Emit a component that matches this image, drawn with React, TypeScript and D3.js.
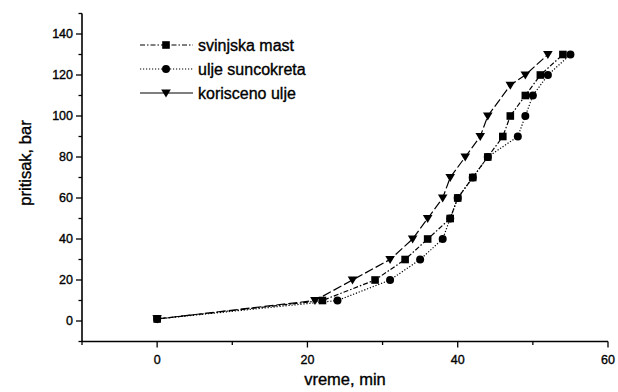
import * as d3 from 'd3';
import {useEffect, useRef} from 'react';

// pritisak (bar) levels shared by the series
const pressure = [1, 10, 20, 30, 40, 50, 60, 70, 80, 90, 100, 110, 120, 130];
const pressureKor = [1, 10, 20, 30, 40, 50, 60, 70, 80, 90, 100, 115, 120, 130];

// vreme (min) for each series
const timeMast = [0, 22, 29, 33, 36, 39, 40, 42, 44, 46, 47, 49, 51, 54];
const timeSunc = [0, 24, 31, 35, 38, 39, 40, 42, 44, 48, 49, 50, 52, 55];
const timeKor = [0, 21, 26, 31, 34, 36, 38, 39, 41, 43, 44, 47, 49, 52];

const seriesNames = ['svinjska mast', 'ulje suncokreta', 'korisceno ulje'];

const xTicks = [0, 20, 40, 60];
const yTicks = [0, 20, 40, 60, 80, 100, 120, 140];

export default function App() {
    const svgRef = useRef<SVGSVGElement>(null);

    const width = 618;
    const height = 392;

    useEffect(() => {
        const svg = d3.select(svgRef.current);
        svg.selectAll('*').remove();

        const font = '"Liberation Sans", Arial, sans-serif';

        const x = d3.scaleLinear().domain([-10, 60]).range([82, 608]);
        const y = d3.scaleLinear().domain([-10, 150]).range([341.5, 13.5]);

        const series = [
            {name: seriesNames[0], xs: timeMast, ys: pressure, dash: '5,2,1.5,2', legendDash: '5,2,1.5,2', marker: 'square'},
            {name: seriesNames[1], xs: timeSunc, ys: pressure, dash: '1.2,1.8', legendDash: '1.2,1.8', marker: 'circle'},
            {name: seriesNames[2], xs: timeKor, ys: pressureKor, dash: '9,3', legendDash: 'none', marker: 'triangle'},
        ];

        const drawMarker = (g: any, kind: string, cx: number, cy: number) => {
            if (kind === 'square') {
                g.append('rect').attr('x', cx - 3.8).attr('y', cy - 3.8)
                    .attr('width', 7.6).attr('height', 7.6).attr('fill', '#000');
            } else if (kind === 'circle') {
                g.append('circle').attr('cx', cx).attr('cy', cy).attr('r', 4).attr('fill', '#000');
            } else {
                g.append('path')
                    .attr('d', `M${cx - 4.8},${cy - 3.6}L${cx + 4.8},${cy - 3.6}L${cx},${cy + 4.6}Z`)
                    .attr('fill', '#000');
            }
        };

        const line = d3.line<[number, number]>()
            .x(d => x(d[0]))
            .y(d => y(d[1]));

        // lines first, markers on top
        series.forEach(s => {
            const pts: [number, number][] = s.xs.map((v, i) => [v, s.ys[i]]);
            svg.append('path')
                .attr('d', line(pts))
                .attr('fill', 'none')
                .attr('stroke', '#000')
                .attr('stroke-width', 1.2)
                .attr('stroke-dasharray', s.dash);
        });
        series.slice().reverse().forEach(s => {
            const g = svg.append('g');
            s.xs.forEach((v, i) => drawMarker(g, s.marker, x(v), y(s.ys[i])));
        });

        // axes (left + bottom only)
        const axisG = svg.append('g').attr('stroke', '#000');
        axisG.append('line').attr('x1', x(-10)).attr('x2', x(-10))
            .attr('y1', y(150)).attr('y2', y(-10)).attr('stroke-width', 1.6);
        axisG.append('line').attr('x1', x(-10)).attr('x2', x(60))
            .attr('y1', y(-10)).attr('y2', y(-10)).attr('stroke-width', 1.6);

        d3.range(-10, 151, 10).forEach(v => {
            const major = yTicks.includes(v);
            axisG.append('line')
                .attr('x1', x(-10)).attr('x2', x(-10) - (major ? 6 : 3.5))
                .attr('y1', y(v)).attr('y2', y(v)).attr('stroke-width', 1.3);
        });
        d3.range(-10, 61, 10).forEach(v => {
            const major = xTicks.includes(v);
            axisG.append('line')
                .attr('x1', x(v)).attr('x2', x(v))
                .attr('y1', y(-10)).attr('y2', y(-10) + (major ? 6 : 3.5)).attr('stroke-width', 1.3);
        });

        const txt = (sel: any, size: number) => sel
            .attr('font-family', font).attr('font-size', size)
            .attr('fill', '#000').attr('stroke', '#000').attr('stroke-width', 0.35);

        txt(svg.selectAll('.ytl').data(yTicks).enter().append('text')
            .attr('x', x(-10) - 9).attr('y', d => y(d))
            .attr('dy', '0.35em')
            .attr('text-anchor', 'end'), 12.5)
            .text(d => d);

        txt(svg.selectAll('.xtl').data(xTicks).enter().append('text')
            .attr('x', d => x(d)).attr('y', 364)
            .attr('text-anchor', 'middle'), 12.5)
            .text(d => d);

        txt(svg.append('text')
            .attr('x', 345).attr('y', 385)
            .attr('text-anchor', 'middle'), 16.5)
            .text('vreme, min');

        txt(svg.append('text')
            .attr('transform', 'translate(31,163) rotate(-90)')
            .attr('text-anchor', 'middle'), 16.5)
            .text('pritisak, bar');

        // legend
        const legend = svg.append('g');
        series.forEach((s, i) => {
            const cy = 45 + i * 24;
            legend.append('line')
                .attr('x1', 140).attr('x2', 193).attr('y1', cy).attr('y2', cy)
                .attr('stroke', '#000').attr('stroke-width', 1.2)
                .attr('stroke-dasharray', s.legendDash);
            drawMarker(legend, s.marker, 166, cy);
            txt(legend.append('text')
                .attr('x', 198).attr('y', cy).attr('dy', '0.35em'), 16)
                .text(s.name);
        });

        return () => {
        };
    }, []);

    return (
        <div style={{position: 'fixed', top: 0, left: 0, background: '#fff'}}>
            <svg ref={svgRef} width={width} height={height}></svg>
        </div>
    );
}
